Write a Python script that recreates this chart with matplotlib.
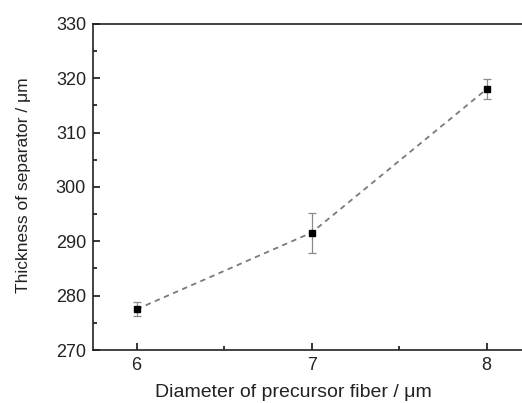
import matplotlib
matplotlib.use("Agg")
import matplotlib.pyplot as plt
from matplotlib.ticker import MultipleLocator

plt.rcParams['font.family'] = ['Liberation Sans', 'DejaVu Sans']

# fiber diameter vs separator thickness
diameter = [6, 7, 8]
thickness = [277.5, 291.6, 318.0]
thickness_err = [1.3, 3.7, 1.8]

fig = plt.figure(figsize=(5.22, 4.03), dpi=100)
ax = fig.add_axes([0.178, 0.1315, 0.838, 0.809])

ax.errorbar(diameter, thickness, yerr=thickness_err, fmt='s', color='black',
            markersize=4.5, ecolor='#8a8a8a', elinewidth=0.9, capsize=3,
            capthick=0.9, zorder=3)
ax.plot(diameter, thickness, linestyle=(0, (3, 2.5)), color='#7a7a7a',
        linewidth=1.3, zorder=2)

ax.set_xlim(5.75, 8.25)
ax.set_ylim(270, 330)
ax.xaxis.set_major_locator(MultipleLocator(1))
ax.xaxis.set_minor_locator(MultipleLocator(0.5))
ax.yaxis.set_major_locator(MultipleLocator(10))
ax.yaxis.set_minor_locator(MultipleLocator(5))
ax.tick_params(which='both', direction='in', labelsize=13, width=1.1,
               labelcolor='#222222')
ax.tick_params(which='major', length=5, pad=5)
ax.tick_params(which='minor', length=3)
for s in ax.spines.values():
    s.set_linewidth(1.2)
    s.set_color('#222222')

ax.set_xlabel('Diameter of precursor fiber / μm', fontsize=14, color='#222222')
ax.set_ylabel('Thickness of separator / μm', fontsize=12.5, color='#222222')
ax.xaxis.set_label_coords(0.459, -0.105)
ax.yaxis.set_label_coords(-0.142, 0.506)

fig.savefig('out.png', dpi=100)
